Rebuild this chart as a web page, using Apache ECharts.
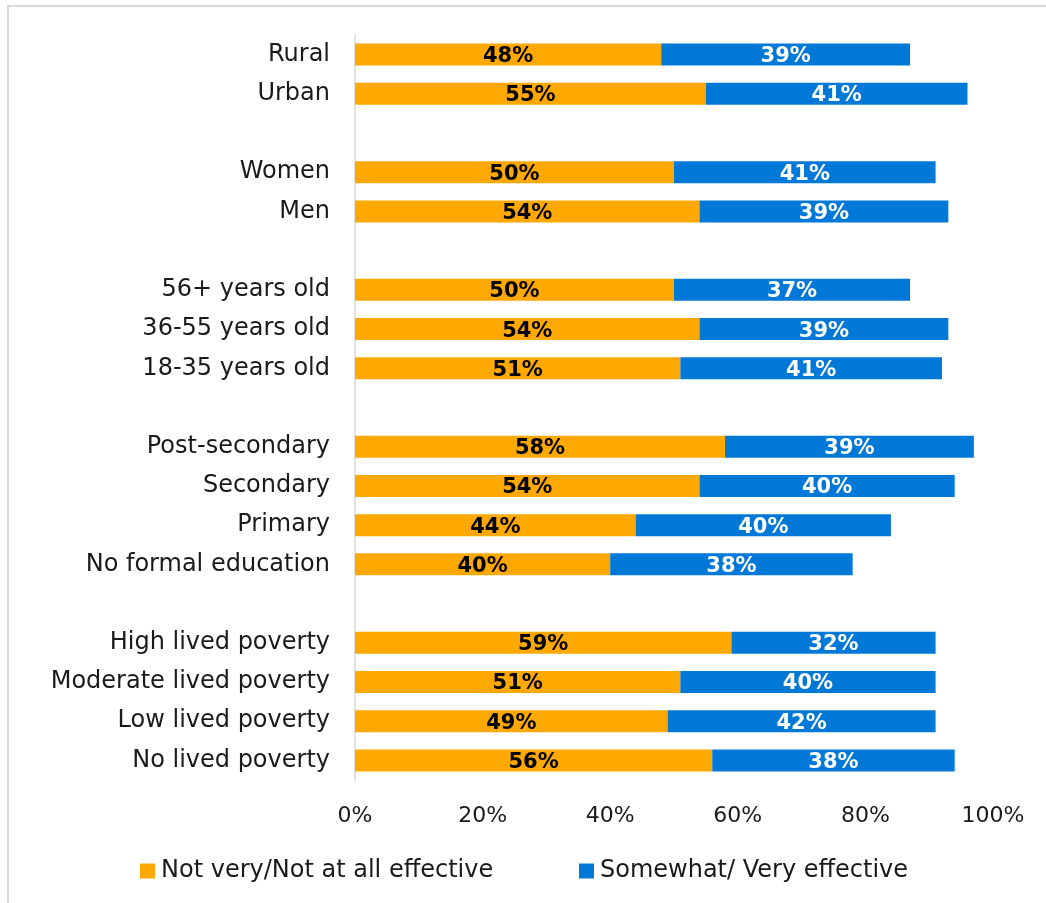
<!DOCTYPE html>
<html>
<head>
<meta charset="utf-8">
<script src="https://cdn.jsdelivr.net/npm/echarts@6/dist/echarts.min.js"></script>
<style>
  html, body { margin: 0; padding: 0; background: #fff; }
  #chart { width: 1046px; height: 903px; }
</style>
</head>
<body>
<div id="chart"></div>
<script>
// Group rows; empty strings are spacer rows between groups
const categories = [
  'Rural', 'Urban', '',
  'Women', 'Men', '',
  '56+ years old', '36-55 years old', '18-35 years old', '',
  'Post-secondary', 'Secondary', 'Primary', 'No formal education', '',
  'High lived poverty', 'Moderate lived poverty', 'Low lived poverty', 'No lived poverty'
];
const notEffective = [48, 55, '-', 50, 54, '-', 50, 54, 51, '-', 58, 54, 44, 40, '-', 59, 51, 49, 56];
const effective    = [39, 41, '-', 41, 39, '-', 37, 39, 41, '-', 39, 40, 40, 38, '-', 32, 40, 42, 38];
const seriesNames = ['Not very/Not at all effective', 'Somewhat/ Very effective'];
const xTicks = [0, 20, 40, 60, 80, 100];

const FONT = '"DejaVu Sans", "Open Sans", sans-serif';
const ORANGE = '#FFA800';
const BLUE = '#0078D7';
const TEXT = '#1a1a1a';

const chart = echarts.init(document.getElementById('chart'), null, { renderer: 'canvas' });

const legendBase = {
  top: 859,
  padding: 0,
  itemWidth: 15, itemHeight: 15, itemGap: 6,
  icon: 'rect',
  textStyle: { fontFamily: FONT, fontSize: 24, color: TEXT, padding: [2, 0, 0, 1] }
};

chart.setOption({
  animation: false,
  backgroundColor: '#ffffff',
  textStyle: { fontFamily: FONT },
  grid: { left: 355, right: 53, top: 35, bottom: 123, containLabel: false },
  legend: [
    Object.assign({ data: [seriesNames[0]], left: 140 }, legendBase),
    Object.assign({ data: [seriesNames[1]], left: 579 }, legendBase)
  ],
  xAxis: {
    type: 'value',
    min: xTicks[0], max: xTicks[xTicks.length - 1], interval: 20,
    axisLine: { show: false },
    axisTick: { show: false },
    splitLine: { show: false },
    axisLabel: {
      fontFamily: FONT, fontSize: 22, color: TEXT, margin: 25,
      formatter: v => v + '%'
    }
  },
  yAxis: {
    type: 'category',
    data: categories,
    inverse: true,
    axisLine: { show: true, lineStyle: { color: '#D9D9D9', width: 1.5 } },
    axisTick: { show: false },
    splitLine: { show: false },
    axisLabel: { fontFamily: FONT, fontSize: 24, color: TEXT, margin: 25 }
  },
  series: [
    {
      name: seriesNames[0],
      type: 'bar', stack: 'total',
      data: notEffective,
      barWidth: 22,
      itemStyle: { color: ORANGE },
      label: {
        show: true, position: 'inside',
        formatter: p => p.value + '%',
        fontFamily: FONT, fontSize: 21, fontWeight: 'bold', color: '#000',
        offset: [0, 2]
      }
    },
    {
      name: seriesNames[1],
      type: 'bar', stack: 'total',
      data: effective,
      barWidth: 22,
      itemStyle: { color: BLUE },
      label: {
        show: true, position: 'inside',
        formatter: p => p.value + '%',
        fontFamily: FONT, fontSize: 21, fontWeight: 'bold', color: '#fff',
        offset: [0, 2]
      }
    }
  ],
  graphic: [
    {
      type: 'polyline',
      shape: { points: [[8, 910], [8, 6], [1060, 6]] },
      style: { stroke: '#D9D9D9', lineWidth: 2, fill: null },
      silent: true
    }
  ]
});
</script>
</body>
</html>
